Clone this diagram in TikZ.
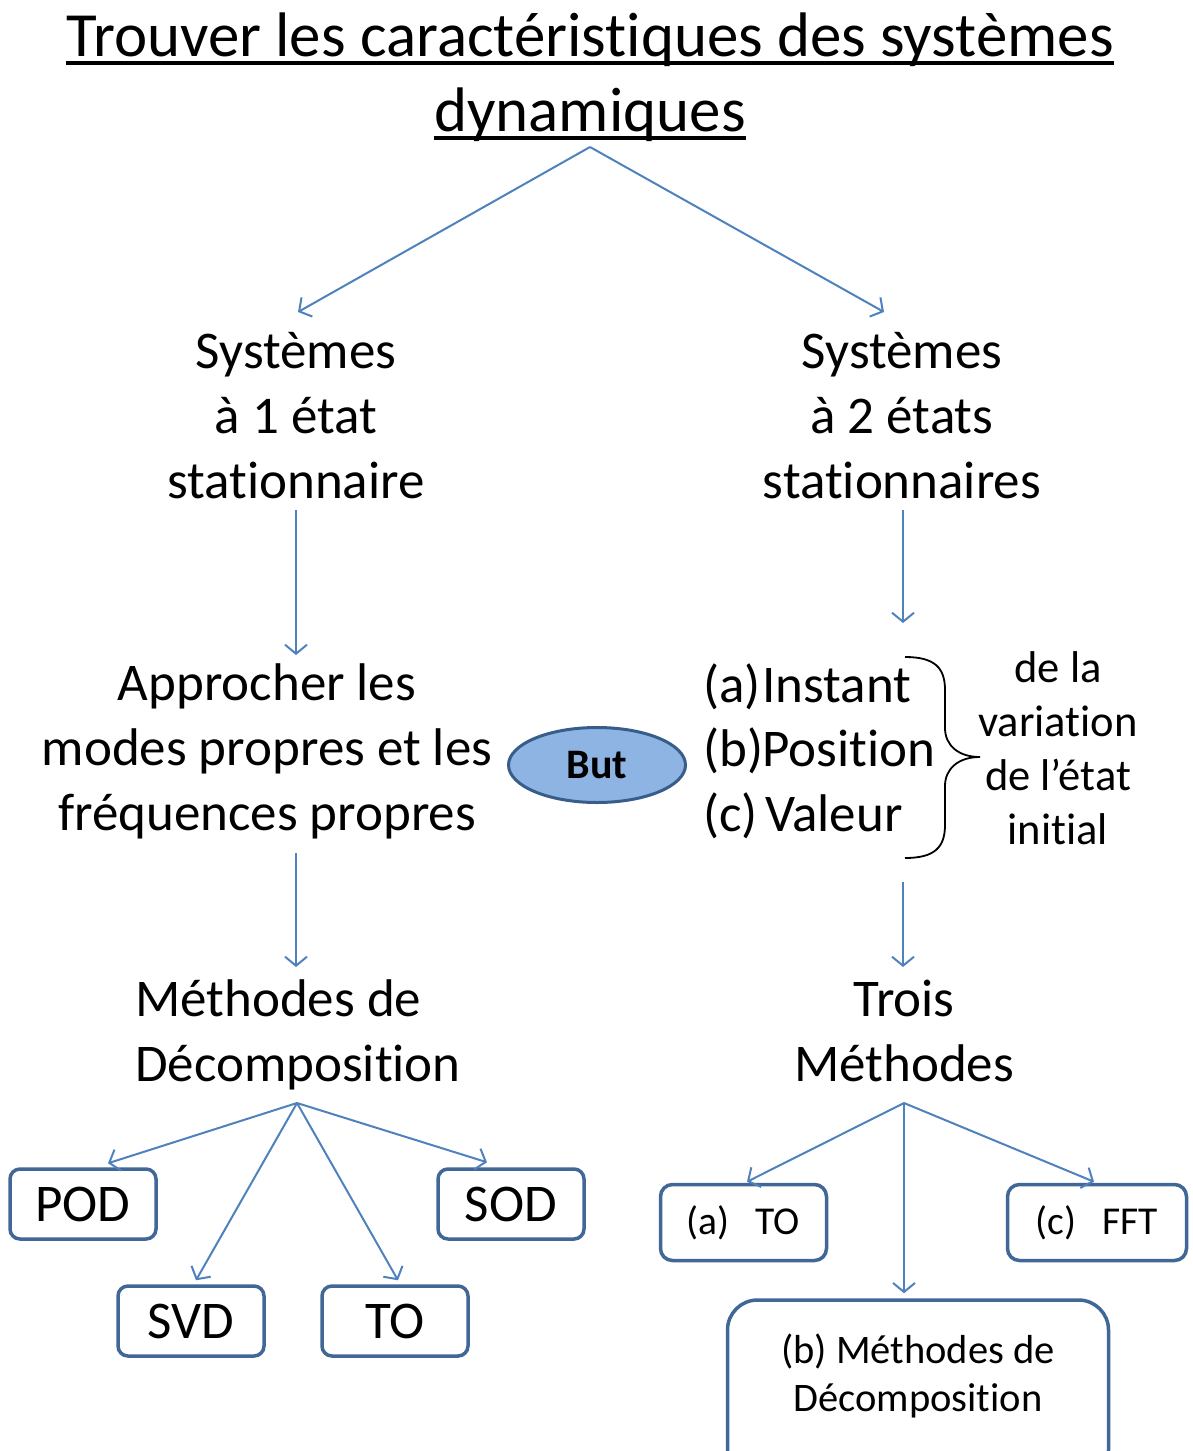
\documentclass[tikz,border=0pt]{standalone}
\usepackage{fontspec}
\setmainfont{Carlito}[Ligatures={NoCommon,NoRequired,NoContextual}]
\usetikzlibrary{arrows.meta,shapes.geometric}
\definecolor{arr}{RGB}{79,129,189}
\definecolor{boxc}{RGB}{65,103,150}
\definecolor{butfill}{RGB}{142,180,227}
\definecolor{butdraw}{RGB}{56,93,138}
\newcommand{\nti}{t\kern0pt i}
\begin{document}
\begin{tikzpicture}[x=1pt,y=-1pt,
  conn/.style={draw=arr, line width=2pt, -{Straight Barb[length=9pt,width=22pt,line width=2pt]}},
  big/.style={font=\fontsize{53}{65}\selectfont, align=center, inner sep=0pt},
  titlef/.style={font=\fontsize{62.9}{75}\selectfont, inner sep=0pt, anchor=base},
  sidef/.style={font=\fontsize{44.5}{54}\selectfont, align=center, inner sep=0pt},
  box/.style={draw=boxc, line width=3.5pt, rounded corners=10pt, minimum width=146pt, minimum height=70pt, inner sep=0pt, font=\fontsize{53}{65}\selectfont},
  sbox/.style={draw=boxc, line width=3.5pt, rounded corners=12pt, minimum height=76pt, inner sep=0pt, font=\fontsize{39.5}{46}\selectfont},
  bbox/.style={draw=boxc, line width=3.5pt, rounded corners=30pt, minimum width=381pt, minimum height=180pt, inner sep=0pt},
  midf/.style={font=\fontsize{40.5}{48}\selectfont, align=center, inner sep=0pt},
  butn/.style={ellipse, draw=butdraw, fill=butfill, line width=3pt, minimum width=177pt, minimum height=75pt, inner sep=0pt, font=\bfseries\fontsize{42}{50}\selectfont}
]
\useasboundingbox (0,0) rectangle (1193,1451);
\clip (0,0) rectangle (1193,1451);

% title
\node[titlef] (t1) at (590,56) {Trouver les caractéris\nti ques des systèmes};
\node[titlef] (t2) at (590,131) {dynamiques};
\draw[line width=3.5pt] ([yshift=-7pt]t1.base west) -- ([yshift=-7pt]t1.base east);
\draw[line width=3.5pt] ([yshift=-7pt]t2.base west) -- ([yshift=-7pt]t2.base east);
\coordinate (tf) at (590,147);

% level 1
\node[big] (s1) at (296,416) {Systèmes\\à 1 état\\sta\nti onnaire};
\node[big] (s2) at (902,416) {Systèmes\\à 2 états\\sta\nti onnaires};
\coordinate (s1in) at (298,312);
\coordinate (s2in) at (884,312);
\draw[conn] (tf) -- (s1in);
\draw[conn] (tf) -- (s2in);

% level 2
\node[big] (ap) at (267,751) {Approcher les\\modes propres et les\\fréquences propres};
\coordinate (s1out) at (296,510);
\coordinate (apin) at (296,655);
\draw[conn] (s1out) -- (apin);

\node[butn] (but) at (597,765) {But};

\node[big, anchor=base west] (la) at (703,702) {(a)};
\node[big, anchor=base west] (lb) at (703,766) {(b)};
\node[big, anchor=base west] (lc) at (703,831) {(c)};
\node[big, anchor=base west] (wa) at (762,702) {Instant};
\node[big, anchor=base west] (wb) at (762,766) {Posi\nti on};
\node[big, anchor=base west] (wc) at (765,831) {Valeur};
\coordinate (s2out) at (903,510);
\coordinate (lin) at (903,623);
\draw[conn] (s2out) -- (lin);

\draw[line width=1.8pt] (905,657) .. controls (935,657) and (945,668) .. (945,690) -- (945,728)
  .. controls (945,745) and (958,757) .. (980,757)
  .. controls (958,757) and (945,769) .. (945,786) -- (945,825)
  .. controls (945,847) and (935,858) .. (905,858);
\node[sidef] (dl) at (1058,748) {de la\\varia\nti on\\de l’état\\ini\nti al};

% level 3
\node[big, align=left, anchor=west] (md) at (135,1035) {Méthodes de\\Décomposi\nti on};
\node[big] (tm) at (904,1031) {Trois\\Méthodes};
\coordinate (apout) at (296,853);
\coordinate (mdin) at (296,967);
\draw[conn] (apout) -- (mdin);
\coordinate (lout) at (903,882);
\coordinate (tmin) at (903,967);
\draw[conn] (lout) -- (tmin);

% left fan
\coordinate (lf) at (297,1103);
\node[box] (pod) at (83,1204) {POD};
\node[box] (sod) at (511,1204) {SOD};
\node[box] (svd) at (191,1321) {SVD};
\node[box] (to) at (395,1321) {TO};
\draw[conn] (lf) -- ([xshift=25pt,yshift=4pt]pod.north);
\draw[conn] (lf) -- ([xshift=-24pt,yshift=5pt]sod.north);
\draw[conn] (lf) -- ([xshift=5pt,yshift=4pt]svd.north);
\draw[conn] (lf) -- ([xshift=3pt,yshift=4pt]to.north);

% right fan
\coordinate (rf) at (904,1103);
\node[sbox, minimum width=166pt] (ato) at (743.5,1222.5) {(a)\hspace{26pt}TO};
\node[sbox, minimum width=179pt] (cfft) at (1097,1222.5) {(c)\hspace{26pt}FFT};
\node[bbox] (bm) at (918,1390) {};
\node[midf] (bmt) at (918,1376) {(b) Méthodes de\\Décomposi\nti on};
\draw[conn] (rf) -- ([xshift=3.5pt,yshift=1pt]ato.north);
\draw[conn] (rf) -- ([xshift=-3pt,yshift=1pt]cfft.north);
\draw[conn] (rf) -- ([xshift=-14pt,yshift=5pt]bm.north);
\end{tikzpicture}
\end{document}
